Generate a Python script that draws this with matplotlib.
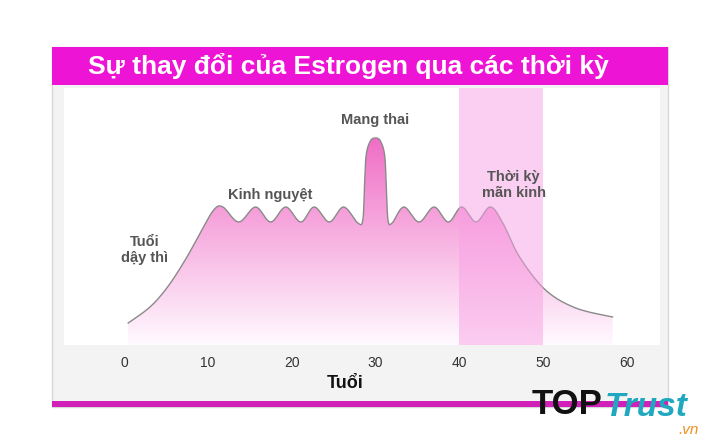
import numpy as np
import matplotlib
matplotlib.use("Agg")
import matplotlib.pyplot as plt
from matplotlib.patches import Rectangle, Polygon

plt.rcParams['font.family'] = ['Liberation Sans', 'DejaVu Sans']

age = [0.5, 3.1, 5.2, 7.3, 9.1, 10.7, 11.8, 13.7, 15.7, 17.5, 19.3, 21.1, 22.7, 24.5, 26.2, 27.9,
       28.5, 28.7, 28.9, 29.4, 30.0, 30.6, 31.1, 31.3, 31.5,
       32.0, 33.4, 35.2, 37.0, 38.7, 40.3, 42.0, 43.7,
       45.2, 47.2, 50.3, 53.9, 58.3]
level = [22, 38, 58, 85, 112, 135, 138, 123, 138, 123, 138, 123, 138, 123, 138, 122,
         125, 160, 190, 204, 207, 204, 190, 160, 125,
         122, 138, 123, 138, 123, 138, 123, 138,
         122, 88, 55, 37, 28]
xticks = [0, 10, 20, 30, 40, 50, 60]
band = (40, 50)
title = "Sự thay đổi của Estrogen qua các thời kỳ"
labels = [("Tuổi\ndậy thì", 2.5, 95), ("Kinh nguyệt", 17.5, 150), ("Mang thai", 30.0, 225),
          ("Thời kỳ\nmãn kinh", 46.5, 160)]

def catmull(xs, ys, n=12):
    P = np.column_stack([xs, ys]).astype(float)
    P = np.vstack([P[0], P, P[-1]])
    out = []
    for i in range(1, len(P) - 2):
        p0, p1, p2, p3 = P[i-1], P[i], P[i+1], P[i+2]
        for t in np.linspace(0, 1, n, endpoint=False):
            t2, t3 = t*t, t*t*t
            out.append(0.5*((2*p1) + (-p0+p2)*t + (2*p0-5*p1+4*p2-p3)*t2 + (-p0+3*p1-3*p2+p3)*t3))
    out.append(P[-2])
    return np.array(out)

W, H = 719, 448
fig = plt.figure(figsize=(W/100, H/100), dpi=100)
fig.patch.set_facecolor('white')

def fx(px): return px / W
def fy(py): return 1 - py / H

fig.add_artist(Rectangle((fx(52), fy(407)), fx(668)-fx(52), fy(47)-fy(407),
                         transform=fig.transFigure, facecolor='#f3f3f3', edgecolor='#d8d8d8', lw=1, zorder=-5))
fig.add_artist(Rectangle((fx(52), fy(85)), fx(668)-fx(52), fy(47)-fy(85),
                         transform=fig.transFigure, facecolor='#ee14d6', edgecolor='none', zorder=-4))
fig.add_artist(Rectangle((fx(52), fy(407)), fx(668)-fx(52), fy(401)-fy(407),
                         transform=fig.transFigure, facecolor='#d020b8', edgecolor='none', zorder=-4))
fig.text(fx(88), fy(66), title, color='white', fontsize=19, fontweight='bold', va='center', ha='left')

px0, ppu = 124, 8.38
ax = fig.add_axes([fx(64), fy(345), fx(660)-fx(64), fy(88)-fy(345)])
ax.set_zorder(1)
ax.set_facecolor('white')
for s in ax.spines.values():
    s.set_visible(False)
ax.set_yticks([])
ax.set_xticks(xticks)
ax.tick_params(axis='x', length=0, pad=8, labelsize=10, labelcolor='#333333')

curve = catmull(age, level)
poly = np.vstack([[curve[0, 0], 0], curve, [curve[-1, 0], 0]])
patch = Polygon(poly, closed=True, facecolor='none', edgecolor='none')
ax.add_patch(patch)
grad = np.linspace(1, 0, 256).reshape(-1, 1)
top = np.array([0.94, 0.42, 0.77]); bot = np.array([1.0, 0.98, 1.0])
img = bot + (top - bot) * grad[..., None]
im = ax.imshow(img, extent=[0, 60, 0, 210], aspect='auto', origin='upper', zorder=1)
im.set_clip_path(patch)
ax.set_xlim((64-px0)/ppu, (660-px0)/ppu)
ax.set_ylim(0, 257)
ax.plot(curve[:, 0], curve[:, 1], color='#8a8a8a', lw=1, zorder=2)
ax.axvspan(band[0], band[1], color='#f9a0e4', alpha=0.5, lw=0, zorder=3)

for txt, x, y in labels:
    ax.text(x, y, txt, ha='center', va='center', fontsize=10.5, fontweight='bold', color='#555555', zorder=4)

fig.text(fx(345), fy(383), "Tuổi", fontsize=13, fontweight='bold', ha='center', va='center', color='#111111')

fig.text(fx(532), fy(405), "TOP", fontsize=25, fontweight='bold', color='#111111', ha='left', va='center')
fig.text(fx(605), fy(407), "Trust", fontsize=24, fontweight='bold', fontstyle='italic', color='#20a8c0',
         ha='left', va='center')
fig.text(fx(678), fy(430), ".vn", fontsize=11, fontstyle='italic', color='#f09020', ha='left', va='center')

fig.savefig("out.png", dpi=100)
